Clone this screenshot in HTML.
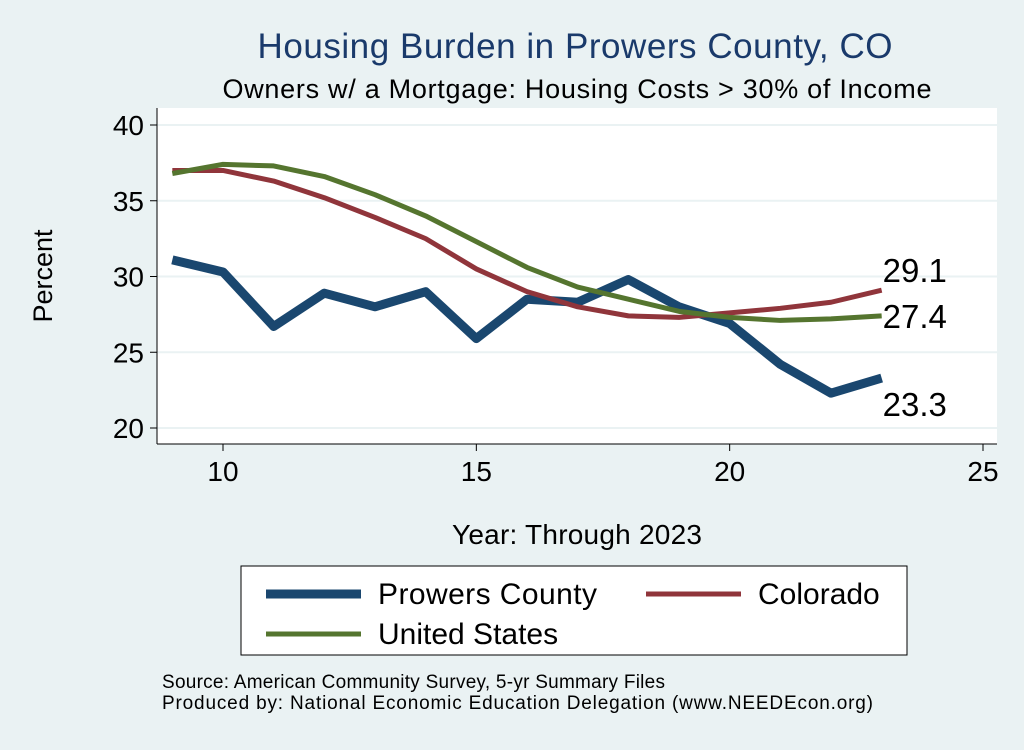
<!DOCTYPE html>
<html><head><meta charset="utf-8"><style>
body{margin:0;background:#eaf2f3;font-family:"Liberation Sans",sans-serif;}
</style></head><body>
<svg width="1024" height="745" viewBox="0 0 1024 745">
<rect x="0" y="0" width="1024" height="745" fill="#eaf2f3"/>
<rect x="157" y="108" width="840" height="336" fill="#fff"/>
<text x="575" y="58" font-size="35" fill="#1a3a6b" text-anchor="middle" textLength="635">Housing Burden in Prowers County, CO</text>
<text x="577" y="98" font-size="27" fill="#000" text-anchor="middle" textLength="709">Owners w/ a Mortgage: Housing Costs &gt; 30% of Income</text>
<g id="grid"></g><g id="axes"></g><g id="series"></g>
<text x="52" y="276" font-size="27" text-anchor="middle" transform="rotate(-90 52 276)">Percent</text>
<text x="577" y="544" font-size="28" text-anchor="middle" textLength="250">Year: Through 2023</text>
<g>
<rect x="241" y="566" width="666" height="89" fill="#fff" stroke="#000" stroke-width="1"/>
<g><line x1="266" y1="594" x2="361" y2="594" stroke="#1a476f" stroke-width="9"/><text x="378" y="604" font-size="30" textLength="219">Prowers County</text></g>
<g><line x1="646" y1="594" x2="741" y2="594" stroke="#90353b" stroke-width="5"/><text x="758" y="604" font-size="30">Colorado</text></g>
<g><line x1="266" y1="634" x2="361" y2="634" stroke="#55752f" stroke-width="5"/><text x="378" y="644" font-size="30">United States</text></g>
</g>
<text x="162" y="688" font-size="19" textLength="503">Source: American Community Survey, 5-yr Summary Files</text>
<text x="162" y="709" font-size="19" textLength="711">Produced by: National Economic Education Delegation (www.NEEDEcon.org)</text>
</svg>
<script>
const years=[9,10,11,12,13,14,15,16,17,18,19,20,21,22,23];
const prowers=[31.1,30.3,26.7,28.9,28.0,29.0,25.9,28.5,28.3,29.8,28.0,26.9,24.2,22.3,23.3];
const colorado=[37.0,37.0,36.3,35.2,33.9,32.5,30.5,29.0,28.0,27.4,27.3,27.6,27.9,28.3,29.1];
const us=[36.8,37.4,37.3,36.6,35.4,34.0,32.3,30.6,29.3,28.5,27.7,27.3,27.1,27.2,27.4];
const xTicks=[10,15,20,25];
const yTicks=[20,25,30,35,40];
const NS="http://www.w3.org/2000/svg";
const X=v=>223+(v-10)*(983-223)/15;
const Y=v=>428-(v-20)*(428-125)/20;
function mk(t,a,p){const e=document.createElementNS(NS,t);for(const k in a)e.setAttribute(k,a[k]);p.appendChild(e);return e;}
const grid=document.getElementById('grid'),axes=document.getElementById('axes'),ser=document.getElementById('series');
yTicks.forEach(v=>{
 const g=mk('line',{x1:157,x2:997,y1:Y(v),y2:Y(v),stroke:'#eaf2f3','stroke-width':2},grid);
 
 
 const t=mk('line',{x1:150,x2:157,y1:Y(v),y2:Y(v),stroke:'#000'},axes);
 
 
 const l=mk('text',{x:144,y:Y(v)+10,'font-size':28,'text-anchor':'end'},axes);l.textContent=v;
 
 
});
xTicks.forEach(v=>{
 const t=mk('line',{x1:X(v),x2:X(v),y1:444,y2:451,stroke:'#000'},axes);
 
 
 const l=mk('text',{x:X(v),y:481,'font-size':28,'text-anchor':'middle'},axes);l.textContent=v;
 
 
});
const ya=mk('line',{x1:157,x2:157,y1:108,y2:444,stroke:'#000'},axes);


const xa=mk('line',{x1:157,x2:997,y1:444,y2:444,stroke:'#000'},axes);


function line(vals,color,w,name,labelDy){
 const pts=vals.map((v,i)=>X(years[i])+','+Y(v)).join(' ');
 const p=mk('polyline',{points:pts,fill:'none',stroke:color,'stroke-width':w,'stroke-linejoin':'round'},ser);
 
 
 const last=vals[vals.length-1];
 const t=mk('text',{x:X(years[years.length-1])+1,y:Y(last)+labelDy,'font-size':33},ser);
 t.textContent=last.toFixed(1);
 
 
}
line(prowers,'#1a476f',9,'prowers-line',38);
line(colorado,'#90353b',5,'colorado-line',-8);
line(us,'#55752f',5,'us-line',12);
</script>
</body></html>
